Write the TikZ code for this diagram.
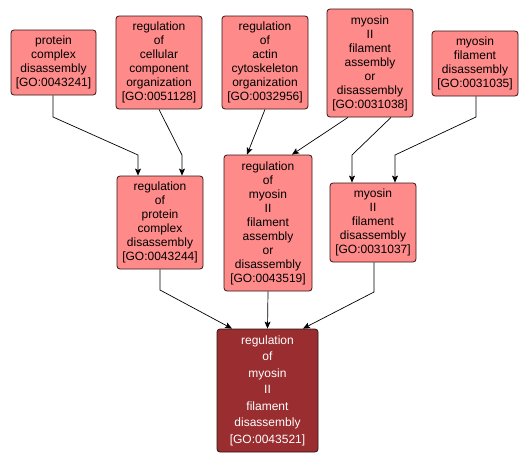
\documentclass[tikz,border=0pt]{standalone}
\usepackage{fontspec}
\setmainfont{Liberation Sans}
\usetikzlibrary{arrows.meta,calc}
\definecolor{lightbox}{RGB}{255,138,138}
\definecolor{darkbox}{RGB}{153,45,48}
\definecolor{boxline}{RGB}{50,20,20}
\tikzset{
  goterm/.style={draw=boxline, line width=0.8pt, fill=lightbox, rounded corners=3pt,
    inner sep=0pt, align=center, font=\fontsize{12}{14}\selectfont},
  goself/.style={goterm, fill=darkbox, text=white, font=\fontsize{12}{16.5}\selectfont},
  link/.style={draw=black, line width=0.7pt, -{Stealth[length=7pt,width=6pt,inset=1.5pt]}}
}
\begin{document}
\begin{tikzpicture}[x=1pt,y=-1pt]
\useasboundingbox (0,0) rectangle (530,463);
\node[goterm, minimum width=85pt, minimum height=65pt] (A) at (53.5,62.5) {protein\\complex\\disassembly\\{[GO:0043241]}};
\node[goterm, minimum width=86pt, minimum height=93pt] (B) at (159,62.5) {regulation\\of\\cellular\\component\\organization\\{[GO:0051128]}};
\node[goterm, minimum width=86pt, minimum height=93pt] (C) at (265,62.5) {regulation\\of\\actin\\cytoskeleton\\organization\\{[GO:0032956]}};
\node[goterm, minimum width=86pt, minimum height=108pt] (D) at (370,63) {myosin\\II\\filament\\assembly\\or\\disassembly\\{[GO:0031038]}};
\node[goterm, minimum width=86pt, minimum height=65pt] (E) at (475,63.5) {myosin\\filament\\disassembly\\{[GO:0031035]}};
\node[goterm, minimum width=86pt, minimum height=93pt] (F) at (160,222.5) {regulation\\of\\protein\\complex\\disassembly\\{[GO:0043244]}};
\node[goterm, minimum width=88pt, minimum height=136pt] (G) at (268,223) {regulation\\of\\myosin\\II\\filament\\assembly\\or\\disassembly\\{[GO:0043519]}};
\node[goterm, minimum width=86pt, minimum height=79pt] (H) at (373,222.5) {myosin\\II\\filament\\disassembly\\{[GO:0031037]}};
\node[goself, minimum width=101pt, minimum height=123pt] (I) at (267.5,390.5) {regulation\\of\\myosin\\II\\filament\\disassembly\\{[GO:0043521]}};
% bend points
\coordinate (a1) at (53,117);
\coordinate (a2) at (138,155);
\coordinate (b1) at (182,155);
\coordinate (d1) at (352,155);
\coordinate (e1) at (476,117);
\coordinate (e2) at (395,155);
\coordinate (f1) at (160,290);
\coordinate (h1) at (374,292);
% edges
\draw[link] (A.south -| a1) -- (a1) -- (a2) -- (a2 |- F.north);
\draw[link] (B.south) -- (b1) -- (b1 |- F.north);
\draw[link] (C.south) -- ($(G.north)+(-21,0)$);
\draw[link] ($(D.south)+(-22,0)$) -- ($(G.north)+(24,0)$);
\draw[link] ($(D.south)+(21,0)$) -- (d1) -- (d1 |- H.north);
\draw[link] (E.south -| e1) -- (e1) -- (e2) -- (e2 |- H.north);
\draw[link] (F.south) -- (f1) -- ($(I.north)+(-35.5,0)$);
\draw[link] (G.south) -- (I.north);
\draw[link] (H.south -| h1) -- (h1) -- ($(I.north)+(35.5,0)$);
\end{tikzpicture}
\end{document}
